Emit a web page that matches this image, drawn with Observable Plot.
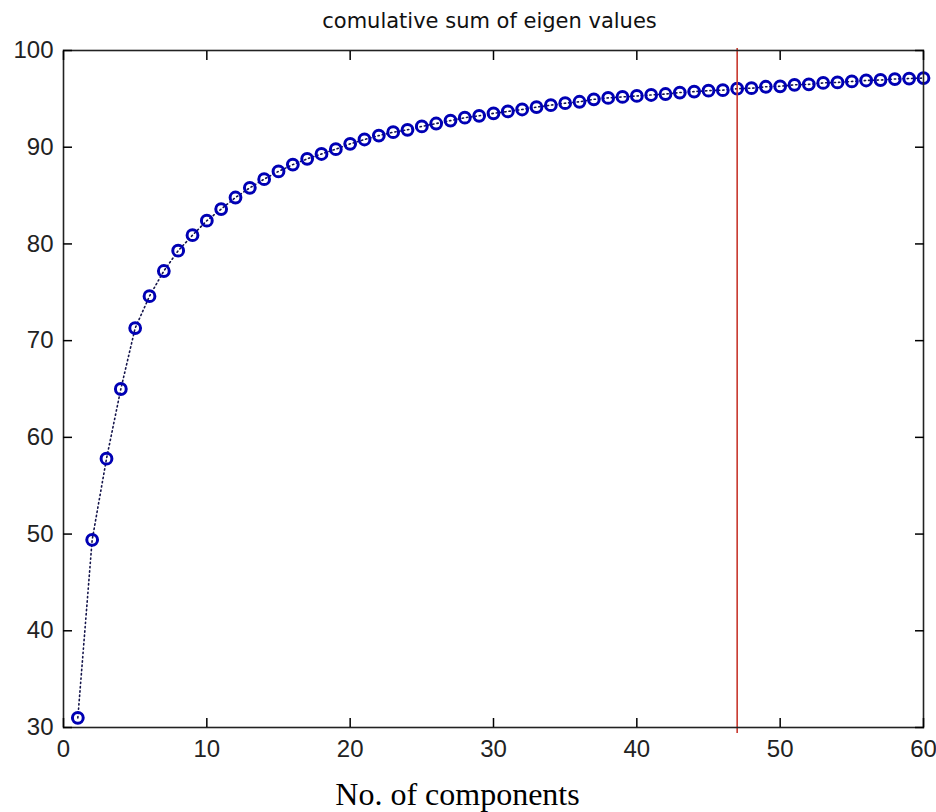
<!DOCTYPE html>
<html>
<head>
<meta charset="utf-8">
<script src="https://cdn.jsdelivr.net/npm/d3@7"></script>
<script src="https://cdn.jsdelivr.net/npm/@observablehq/plot@0.6"></script>
<style>
  html, body { margin: 0; padding: 0; background: #fff; }
</style>
</head>
<body>
<div id="chart"></div>
<script>
const components = d3.range(1, 61);
const cumulative = [
  31.0, 49.4, 57.8, 65.0, 71.3, 74.6, 77.2, 79.3, 80.9, 82.4,
  83.6, 84.8, 85.8, 86.7, 87.5, 88.2, 88.8, 89.3, 89.8, 90.35,
  90.8, 91.2, 91.55, 91.8, 92.15, 92.45, 92.75, 93.05, 93.25, 93.5,
  93.7, 93.9, 94.15, 94.35, 94.55, 94.7, 94.95, 95.1, 95.2, 95.3,
  95.4, 95.5, 95.65, 95.75, 95.85, 95.9, 96.05, 96.1, 96.25, 96.3,
  96.45, 96.5, 96.65, 96.7, 96.8, 96.9, 96.95, 97.05, 97.1, 97.15
];
const xTicks = [0, 10, 20, 30, 40, 50, 60];
const yTicks = [30, 40, 50, 60, 70, 80, 90, 100];
const cutoff = [47];
const title = ["comulative sum of eigen values"];
const xLabel = ["No. of components"];

const data = components.map((c, i) => ({x: c, y: cumulative[i]}));

const chart = Plot.plot({
  width: 936,
  height: 812,
  marginLeft: 63,
  marginRight: 13,
  marginTop: 50,
  marginBottom: 85,
  style: {fontFamily: "Liberation Sans", background: "#fff"},
  x: {domain: [0, 60]},
  y: {domain: [30, 100]},
  marks: [
    Plot.line(data, {x: "x", y: "y", stroke: "#14144a", strokeWidth: 1.6, strokeDasharray: "1.3,3"}),
    Plot.dot(data, {x: "x", y: "y", r: 5.4, stroke: "#0000b4", strokeWidth: 3, fill: "none"}),
    Plot.ruleX(cutoff, {stroke: "#c8372d", strokeWidth: 1.6, insetTop: -2, insetBottom: -6}),
    Plot.frame({stroke: "#222", strokeWidth: 1.6}),
    Plot.axisY({ticks: yTicks, tickSize: 0, tickPadding: 10, fontSize: 24, label: null, fill: "#222"}),
    Plot.axisY({ticks: yTicks, tickSize: -9, text: null, label: null, strokeWidth: 1.5}),
    Plot.axisY({anchor: "right", ticks: yTicks, tickSize: -9, text: null, label: null, strokeWidth: 1.5}),
    Plot.axisX({ticks: xTicks, tickSize: 0, tickPadding: 12, fontSize: 24, label: null, fill: "#222"}),
    Plot.axisX({ticks: xTicks, tickSize: -9, text: null, label: null, strokeWidth: 1.5}),
    Plot.axisX({anchor: "top", ticks: xTicks, tickSize: -9, text: null, label: null, strokeWidth: 1.5}),
    Plot.text(title, {frameAnchor: "top", dx: -4, dy: -29, lineAnchor: "middle", fontSize: 21, letterSpacing: 2.9, fill: "#111", fontFamily: "DejaVu Sans"}),
    Plot.text(xLabel, {frameAnchor: "bottom", dx: -36, dy: 67, lineAnchor: "middle", fontSize: 32, fill: "#000", fontFamily: "Liberation Serif"})
  ]
});
document.getElementById("chart").appendChild(chart);
</script>
</body>
</html>
